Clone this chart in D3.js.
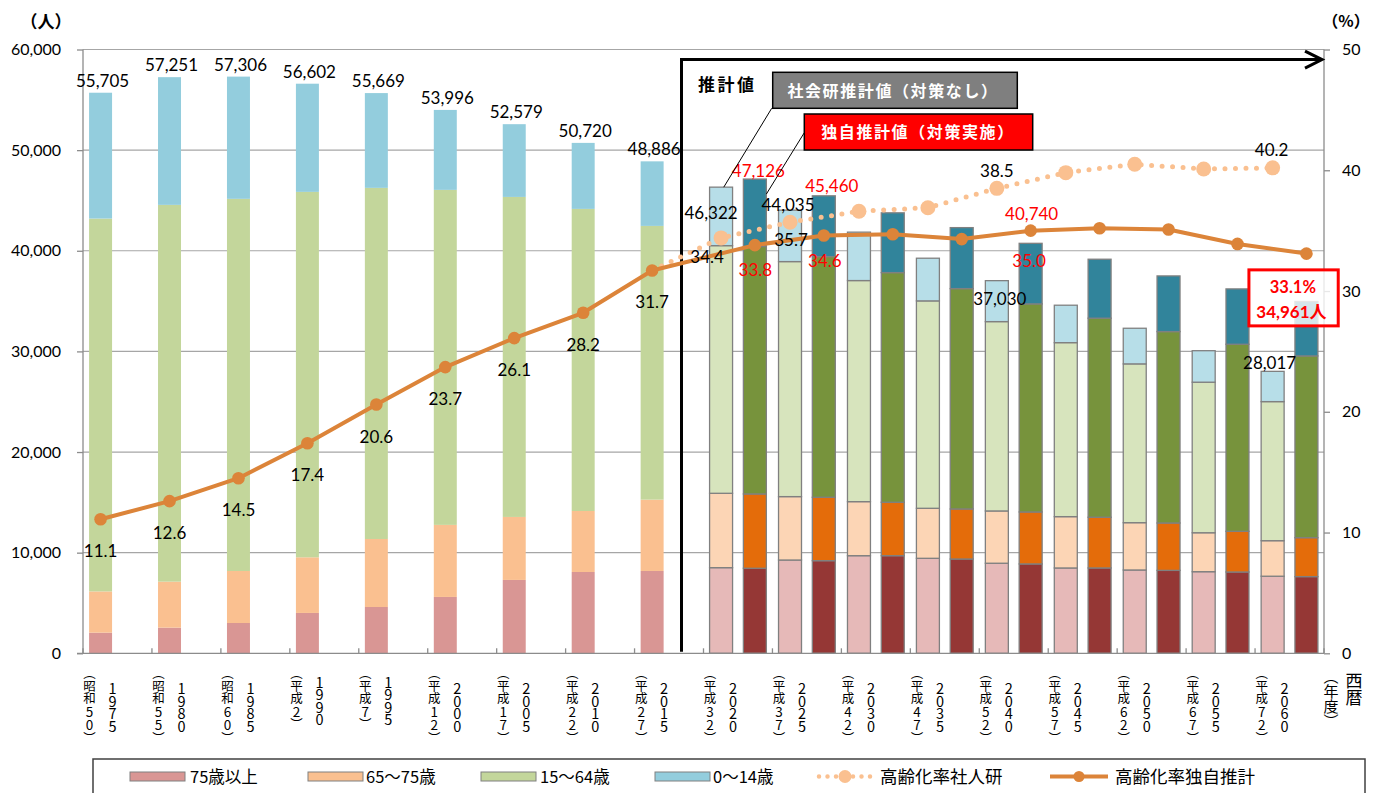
<!DOCTYPE html>
<html>
<head>
<meta charset="utf-8">
<script src="https://cdn.jsdelivr.net/npm/d3@7"></script>
<style>
  html, body { margin: 0; padding: 0; background: #fff; }
  svg { display: block; }
  .num { font-family: Lato, "Liberation Sans", sans-serif; }
  .jp  { font-family: "Noto Sans CJK JP", sans-serif; }
  .vert { writing-mode: vertical-rl; text-orientation: upright; }
</style>
</head>
<body>
<svg id="chart" width="1377" height="793"></svg>
<script>
// ---- categories (Western year / Japanese era year) ----
const years  = ["1975","1980","1985","1990","1995","2000","2005","2010","2015",
                "2020","2025","2030","2035","2040","2045","2050","2055","2060"];
const wareki = ["昭和50","昭和55","昭和60","平成2","平成7","平成12","平成17","平成22","平成27",
                "平成32","平成37","平成42","平成47","平成52","平成57","平成62","平成67","平成72"];
const histYears = years.slice(0, 9);
const projYears = years.slice(9);

// ---- actual population by age group (persons), 1975–2015 ----
const hist75 = [2050, 2550, 3010, 4010, 4600, 5600, 7290, 8080, 8180];
const hist65 = [4100, 4570, 5170, 5530, 6760, 7160, 6260, 6060, 7090];
const hist15 = [37050, 37440, 36980, 36310, 34890, 33290, 31800, 30020, 27200];
const hist0  = [12505, 12691, 12146, 10752, 9419, 7946, 7229, 6560, 6416];

// ---- IPSS projection (no measures), 2020–2060 ----
const ipss75 = [8510, 9270, 9700, 9440, 8950, 8480, 8280, 8110, 7660];
const ipss65 = [7390, 6300, 5370, 4970, 5195, 5100, 4700, 3870, 3530];
const ipss15 = [24610, 23355, 21970, 20610, 18815, 17290, 15780, 14960, 13820];
const ipss0  = [5812, 5110, 4810, 4240, 4070, 3720, 3540, 3130, 3007];

// ---- own projection (with measures), 2020–2060 ----
const own75 = [8450, 9205, 9700, 9370, 8880, 8480, 8240, 8080, 7620];
const own65 = [7385, 6301, 5310, 4973, 5165, 5040, 4710, 4040, 3870];
const own15 = [24585, 23914, 22820, 21897, 20675, 19780, 19020, 18590, 18060];
const own0  = [6706, 6040, 5940, 6060, 6020, 5860, 5530, 5500, 5411];

// ---- ageing rate (%) ----
const rateHist = [11.1, 12.6, 14.5, 17.4, 20.6, 23.7, 26.1, 28.2, 31.7];
const rateIpss = [34.4, 35.7, 36.6, 36.9, 38.5, 39.8, 40.5, 40.1, 40.2];
const rateOwn  = [33.8, 34.6, 34.7, 34.3, 35.0, 35.2, 35.1, 33.9, 33.1];

// ---- axis ticks ----
const leftTicks  = [0, 10000, 20000, 30000, 40000, 50000, 60000];
const rightTicks = [0, 10, 20, 30, 40, 50];

const keys = ["a75", "a65", "a15", "a0"];
const palette = {
  hist: ["#d99694", "#fac090", "#c3d69b", "#93cddd"],
  ipss: ["#e6b9b8", "#fcd5b5", "#d7e4bd", "#b7dee8"],
  own:  ["#953735", "#e46c0a", "#77933c", "#31849b"]
};
const lineOwnColor = "#dc8439";
const lineIpssColor = "#fac090";

const svg = d3.select("#chart");
const M = { left: 83, right: 1324, top: 49.5, bottom: 653.3 };

const x = d3.scaleBand().domain(years).range([M.left, M.right]);
const slot = d3.scaleBand().domain([0, 1]).range([0, x.bandwidth()])
  .paddingInner(0.32).paddingOuter(0.18);
const cx = (yr, s) => x(yr) + slot(s) + slot.bandwidth() / 2;
const yL = d3.scaleLinear().domain([0, 60000]).range([M.bottom, M.top]);
const yR = d3.scaleLinear().domain([0, 50]).range([M.bottom, M.top]);

const fmt = d3.format(",");
const fmt1 = d3.format(".1f");

// ---- gridlines ----
svg.append("g").selectAll("line").data(leftTicks.filter(d => d > 0)).join("line")
  .attr("x1", M.left).attr("x2", M.right)
  .attr("y1", d => yL(d)).attr("y2", d => yL(d))
  .attr("stroke", "#a6a6a6").attr("stroke-width", 1.2);

// ---- rows for stacking ----
function rows(list, a75, a65, a15, a0, s, kind) {
  return list.map((yr, i) => ({ year: yr, slot: s, kind,
    a75: a75[i], a65: a65[i], a15: a15[i], a0: a0[i] }));
}
const groups = [
  rows(histYears, hist75, hist65, hist15, hist0, 0, "hist"),
  rows(projYears, ipss75, ipss65, ipss15, ipss0, 0, "ipss"),
  rows(projYears, own75, own65, own15, own0, 1, "own")
];
const stack = d3.stack().keys(keys);
const barG = svg.append("g");
groups.forEach(g => {
  const series = stack(g);
  series.forEach((ser, k) => {
    barG.append("g").selectAll("rect").data(ser).join("rect")
      .attr("x", d => x(d.data.year) + slot(d.data.slot))
      .attr("width", slot.bandwidth())
      .attr("y", d => yL(d[1]))
      .attr("height", d => yL(d[0]) - yL(d[1]))
      .attr("fill", d => palette[d.data.kind][k])
      .attr("stroke", d => d.data.kind === "hist" ? "none" : "#808080")
      .attr("stroke-width", 1.3);
  });
});
const total = r => r.a75 + r.a65 + r.a15 + r.a0;

// ---- axes ----
const axL = svg.append("g").attr("transform", `translate(${M.left},0)`)
  .call(d3.axisLeft(yL).tickValues(leftTicks).tickFormat(fmt).tickSize(6).tickPadding(16));
const axR = svg.append("g").attr("transform", `translate(${M.right},0)`)
  .call(d3.axisRight(yR).tickValues(rightTicks).tickSize(6).tickPadding(12));
[axL, axR].forEach(a => {
  a.select(".domain").attr("stroke", "#8c8c8c").attr("stroke-width", 1.3);
  a.selectAll(".tick line").attr("stroke", "#8c8c8c").attr("stroke-width", 1.3);
  a.selectAll(".tick text").attr("class", "num").attr("font-size", 16).attr("fill", "#000");
});
axL.select(".domain").attr("d", `M0,${M.top}V${M.bottom}`);
axR.select(".domain").attr("d", `M0,${M.top}V${M.bottom}`);
svg.append("line").attr("x1", M.left - 6).attr("x2", M.right)
  .attr("y1", M.bottom).attr("y2", M.bottom).attr("stroke", "#8c8c8c").attr("stroke-width", 1.3);
svg.append("g").selectAll("line").data(years.map(d => x(d)).concat([M.right])).join("line")
  .attr("x1", d => d).attr("x2", d => d)
  .attr("y1", M.bottom).attr("y2", M.bottom - 5)
  .attr("stroke", "#8c8c8c").attr("stroke-width", 1.3);

// axis unit titles
svg.append("text").attr("class", "jp").attr("x", 46).attr("y", 28)
  .attr("text-anchor", "middle").attr("font-size", 17).attr("font-weight", "bold").text("（人）");
svg.append("text").attr("class", "jp").attr("x", 1346).attr("y", 27)
  .attr("text-anchor", "middle").attr("font-size", 16).attr("font-weight", "bold").text("（%）");

// ---- projection frame with arrow ----
const frameX = x("2020") - 22;
const frameY = yL(59000);
svg.append("path")
  .attr("d", `M${frameX},${M.bottom - 1.5}V${frameY}H${M.right - 2}`)
  .attr("fill", "none").attr("stroke", "#000").attr("stroke-width", 3);
svg.append("path")
  .attr("d", `M${M.right - 19},${frameY - 8.5}L${M.right - 2},${frameY}L${M.right - 19},${frameY + 8.5}`)
  .attr("fill", "none").attr("stroke", "#000").attr("stroke-width", 3).attr("stroke-linejoin", "miter");

// ---- ageing-rate lines ----
const ownPts = histYears.map((yr, i) => ({ x: cx(yr, 0), v: rateHist[i] }))
  .concat(projYears.map((yr, i) => ({ x: cx(yr, 1), v: rateOwn[i] })));
const ipssPts = [{ x: cx("2015", 0), v: rateHist[8] }]
  .concat(projYears.map((yr, i) => ({ x: cx(yr, 0), v: rateIpss[i] })));
const line = d3.line().x(d => d.x).y(d => yR(d.v));

svg.append("path").datum(ipssPts).attr("d", line)
  .attr("fill", "none").attr("stroke", lineIpssColor).attr("stroke-width", 5)
  .attr("stroke-linecap", "round").attr("stroke-dasharray", "0 10.5");
svg.append("g").selectAll("circle").data(ipssPts.slice(1)).join("circle")
  .attr("cx", d => d.x).attr("cy", d => yR(d.v)).attr("r", 7.5).attr("fill", lineIpssColor);

svg.append("path").datum(ownPts).attr("d", line)
  .attr("fill", "none").attr("stroke", lineOwnColor).attr("stroke-width", 4)
  .attr("stroke-linejoin", "round");
svg.append("g").selectAll("circle").data(ownPts).join("circle")
  .attr("cx", d => d.x).attr("cy", d => yR(d.v)).attr("r", 6.3).attr("fill", lineOwnColor);

// ---- data labels ----
const lab = svg.append("g").attr("class", "num").attr("font-size", 17).attr("text-anchor", "middle");
groups[0].forEach(r => {
  lab.append("text").attr("x", cx(r.year, 0) + 2).attr("y", yL(total(r)) - 6).text(fmt(total(r)));
});
histYears.forEach((yr, i) => {
  lab.append("text").attr("x", cx(yr, 0)).attr("y", yR(rateHist[i]) + 38).text(fmt1(rateHist[i]));
});

const ipssRows = groups[1], ownRows = groups[2];
const idx = yr => projYears.indexOf(yr);
// totals of projected bars
[
  { yr: "2020", s: 0, dx: -10, dy: 31.5, c: "#000" },
  { yr: "2020", s: 1, dx: 3.5, dy: -2.5, c: "#ff0000" },
  { yr: "2025", s: 0, dx: -2, dy: 0.7, c: "#000" },
  { yr: "2025", s: 1, dx: 8, dy: -4, c: "#ff0000" },
  { yr: "2040", s: 0, dx: 3, dy: 24.5, c: "#000" },
  { yr: "2040", s: 1, dx: 1, dy: -23, c: "#ff0000" },
  { yr: "2060", s: 0, dx: -3, dy: -2, c: "#000" }
].forEach(o => {
  const r = (o.s === 0 ? ipssRows : ownRows)[idx(o.yr)];
  lab.append("text").attr("x", cx(o.yr, o.s) + o.dx).attr("y", yL(total(r)) + o.dy)
    .attr("fill", o.c).text(fmt(total(r)));
});
// projected ageing rates
[
  { yr: "2020", s: 0, dx: -14, dy: 25.3, c: "#000" },
  { yr: "2020", s: 1, dx: 0.5, dy: 31, c: "#ff0000" },
  { yr: "2025", s: 0, dx: 1, dy: 24, c: "#000" },
  { yr: "2025", s: 1, dx: 1, dy: 32, c: "#ff0000" },
  { yr: "2040", s: 0, dx: 0, dy: -11, c: "#000" },
  { yr: "2040", s: 1, dx: -1.5, dy: 36, c: "#ff0000" },
  { yr: "2060", s: 0, dx: -1, dy: -12, c: "#000" }
].forEach(o => {
  const v = (o.s === 0 ? rateIpss : rateOwn)[idx(o.yr)];
  lab.append("text").attr("x", cx(o.yr, o.s) + o.dx).attr("y", yR(v) + o.dy)
    .attr("fill", o.c).text(fmt1(v));
});

// ---- 2060 highlight box ----
{
  const r = ownRows[idx("2060")];
  const bx = cx("2060", 1), by = yL(total(r));
  svg.append("rect").attr("x", bx - 57.5).attr("y", by - 31.6).attr("width", 89.3).attr("height", 56)
    .attr("fill", "#fff").attr("fill-opacity", 0.8).attr("stroke", "#ff0000").attr("stroke-width", 3);
  svg.append("text").attr("class", "num").attr("font-size", 16.5).attr("font-weight", "bold")
    .attr("fill", "#ff0000").attr("text-anchor", "end")
    .attr("x", bx + 9.5).attr("y", by - 8.6).text(fmt1(rateOwn[idx("2060")]) + "%");
  svg.append("text").attr("font-size", 17).attr("font-weight", "bold")
    .attr("fill", "#ff0000").attr("text-anchor", "middle")
    .attr("x", bx - 15).attr("y", by + 16.4)
    .call(t => {
      t.append("tspan").attr("class", "num").text(fmt(total(r)));
      t.append("tspan").attr("class", "jp").text("人");
    });
}

// ---- callouts ----
{
  const r0 = ipssRows[idx("2020")], r1 = ownRows[idx("2020")];
  svg.append("text").attr("class", "jp").attr("x", 698).attr("y", 91)
    .attr("font-size", 17).attr("font-weight", "bold").attr("letter-spacing", 2.5).text("推計値");

  svg.append("line").attr("x1", 771.7).attr("y1", 108.3)
    .attr("x2", cx("2020", 0) + 2.7).attr("y2", yL(total(r0)))
    .attr("stroke", "#000").attr("stroke-width", 1);
  svg.append("line").attr("x1", 804.3).attr("y1", 132.7)
    .attr("x2", x("2020") + slot(1) + slot.bandwidth()).attr("y2", yL(total(r1)) + 15)
    .attr("stroke", "#000").attr("stroke-width", 1);

  svg.append("rect").attr("x", 772.7).attr("y", 72.3).attr("width", 244.6).attr("height", 36)
    .attr("fill", "#7f7f7f").attr("stroke", "#000").attr("stroke-width", 1.5);
  svg.append("text").attr("class", "jp").attr("x", 893).attr("y", 96.5)
    .attr("text-anchor", "middle").attr("font-size", 16).attr("font-weight", "bold")
    .attr("letter-spacing", 1.6).attr("fill", "#fff").text("社会研推計値（対策なし）");

  svg.append("rect").attr("x", 804.3).attr("y", 114).attr("width", 228.4).attr("height", 36)
    .attr("fill", "#ff0000").attr("stroke", "#000").attr("stroke-width", 1.5);
  svg.append("text").attr("class", "jp").attr("x", 918).attr("y", 138)
    .attr("text-anchor", "middle").attr("font-size", 16).attr("font-weight", "bold")
    .attr("letter-spacing", 1.6).attr("fill", "#fff").text("独自推計値（対策実施）");
}

// ---- vertical category labels: era year column (left) and Western year column (right) ----
const step = 12.5, topV = 667;
const catG = svg.append("g").attr("class", "jp").attr("fill", "#000");
years.forEach((yr, i) => {
  const c = cx(yr, 0);
  const era = "（" + wareki[i] + "）";
  const t = catG.append("text").attr("class", "vert").attr("font-size", step)
    .attr("x", c - 11).attr("y", topV);
  let len = 0;
  era.match(/[0-9]+|[^0-9]+/g).forEach(run => {
    const ts = t.append("tspan").text(run);
    if (/[0-9]/.test(run)) {
      ts.attr("font-size", 13.5);
      len += run.length * 13.5;
    } else {
      len += run.length * step;
    }
  });
  catG.append("text").attr("class", "vert").attr("font-size", 14.5).attr("letter-spacing", -2)
    .attr("text-anchor", "middle")
    .attr("x", c + 12).attr("y", topV + len / 2 + 1).text(yr);
});
catG.append("text").attr("class", "vert").attr("x", 1331).attr("y", topV + 2).attr("font-size", 15).text("（年度）");
catG.append("text").attr("class", "vert").attr("x", 1354).attr("y", topV + 5).attr("font-size", 17).text("西暦");

// ---- legend ----
const leg = svg.append("g");
leg.append("rect").attr("x", 93).attr("y", 759).attr("width", 1272).attr("height", 60)
  .attr("fill", "#fff").attr("stroke", "#404040").attr("stroke-width", 1.5);
const legItems = [
  { label: "75歳以上", c: palette.hist[0], sx: 130, tx: 190 },
  { label: "65〜75歳", c: palette.hist[1], sx: 308, tx: 366 },
  { label: "15〜64歳", c: palette.hist[2], sx: 481, tx: 540 },
  { label: "0〜14歳",  c: palette.hist[3], sx: 655, tx: 713 }
];
legItems.forEach(d => {
  leg.append("rect").attr("x", d.sx).attr("y", 772).attr("width", 55).attr("height", 9)
    .attr("fill", d.c).attr("stroke", "#808080").attr("stroke-width", 1);
  leg.append("text").attr("class", "jp").attr("x", d.tx).attr("y", 782.5)
    .attr("font-size", 16.5).text(d.label);
});
leg.append("line").attr("x1", 819).attr("x2", 871).attr("y1", 776.5).attr("y2", 776.5)
  .attr("stroke", lineIpssColor).attr("stroke-width", 4.5).attr("stroke-linecap", "round")
  .attr("stroke-dasharray", "0 8.5");
leg.append("circle").attr("cx", 845).attr("cy", 776.5).attr("r", 6.5).attr("fill", lineIpssColor);
leg.append("text").attr("class", "jp").attr("x", 880).attr("y", 782.5).attr("font-size", 17.5).text("高齢化率社人研");
leg.append("line").attr("x1", 1050).attr("x2", 1108).attr("y1", 776.5).attr("y2", 776.5)
  .attr("stroke", lineOwnColor).attr("stroke-width", 4);
leg.append("circle").attr("cx", 1079).attr("cy", 776.5).attr("r", 5.5).attr("fill", lineOwnColor);
leg.append("text").attr("class", "jp").attr("x", 1115).attr("y", 782.5).attr("font-size", 17.5).text("高齢化率独自推計");
</script>
</body>
</html>
